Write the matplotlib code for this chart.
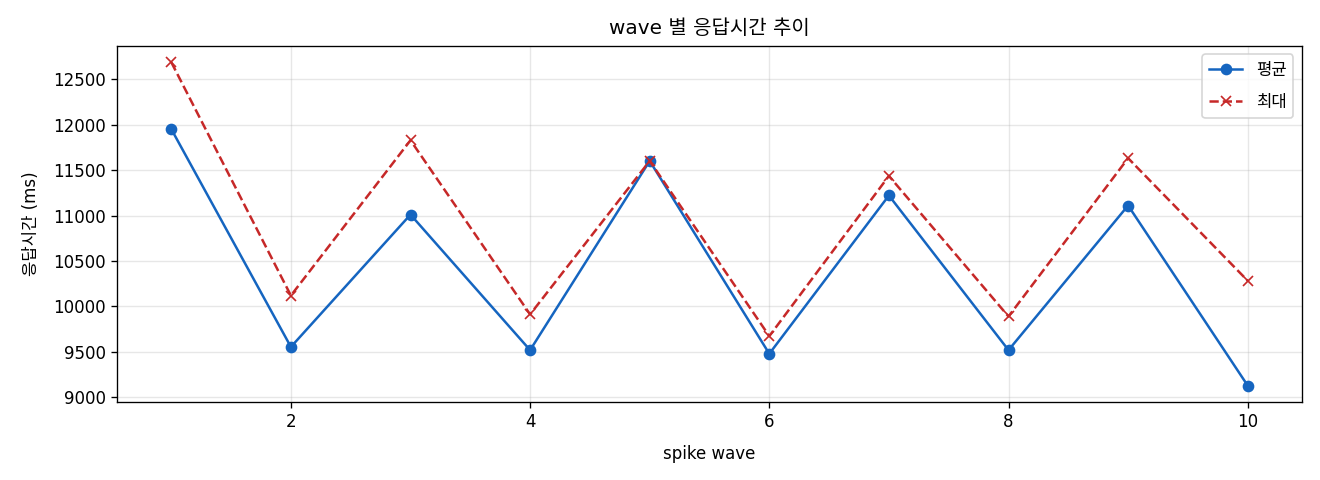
import matplotlib
matplotlib.use('Agg')
import matplotlib.pyplot as plt

plt.rcParams['font.family'] = ['DejaVu Sans', 'Noto Sans CJK KR']
plt.rcParams['axes.unicode_minus'] = False

# wave 별 응답시간 (ms)
waves = [1, 2, 3, 4, 5, 6, 7, 8, 9, 10]
avg_ms = [11950, 9555, 11010, 9520, 11600, 9480, 11220, 9520, 11110, 9130]
max_ms = [12685, 10120, 11827, 9913, 11600, 9674, 11435, 9890, 11630, 10283]

fig, ax = plt.subplots(figsize=(11, 4), dpi=120)
ax.plot(waves, avg_ms, marker='o', color='#1565C0', label='평균')
ax.plot(waves, max_ms, marker='x', linestyle='--', color='#C62828', label='최대')

ax.set_title('wave 별 응답시간 추이', fontsize=12, pad=7)
ax.set_xlabel('spike wave', labelpad=8)
ax.set_ylabel('응답시간 (ms)', labelpad=8)
ax.grid(True, alpha=0.3)
ax.legend(labelspacing=0.85)

fig.subplots_adjust(left=0.089, right=0.986, top=0.904, bottom=0.163)
plt.savefig('out.png')
